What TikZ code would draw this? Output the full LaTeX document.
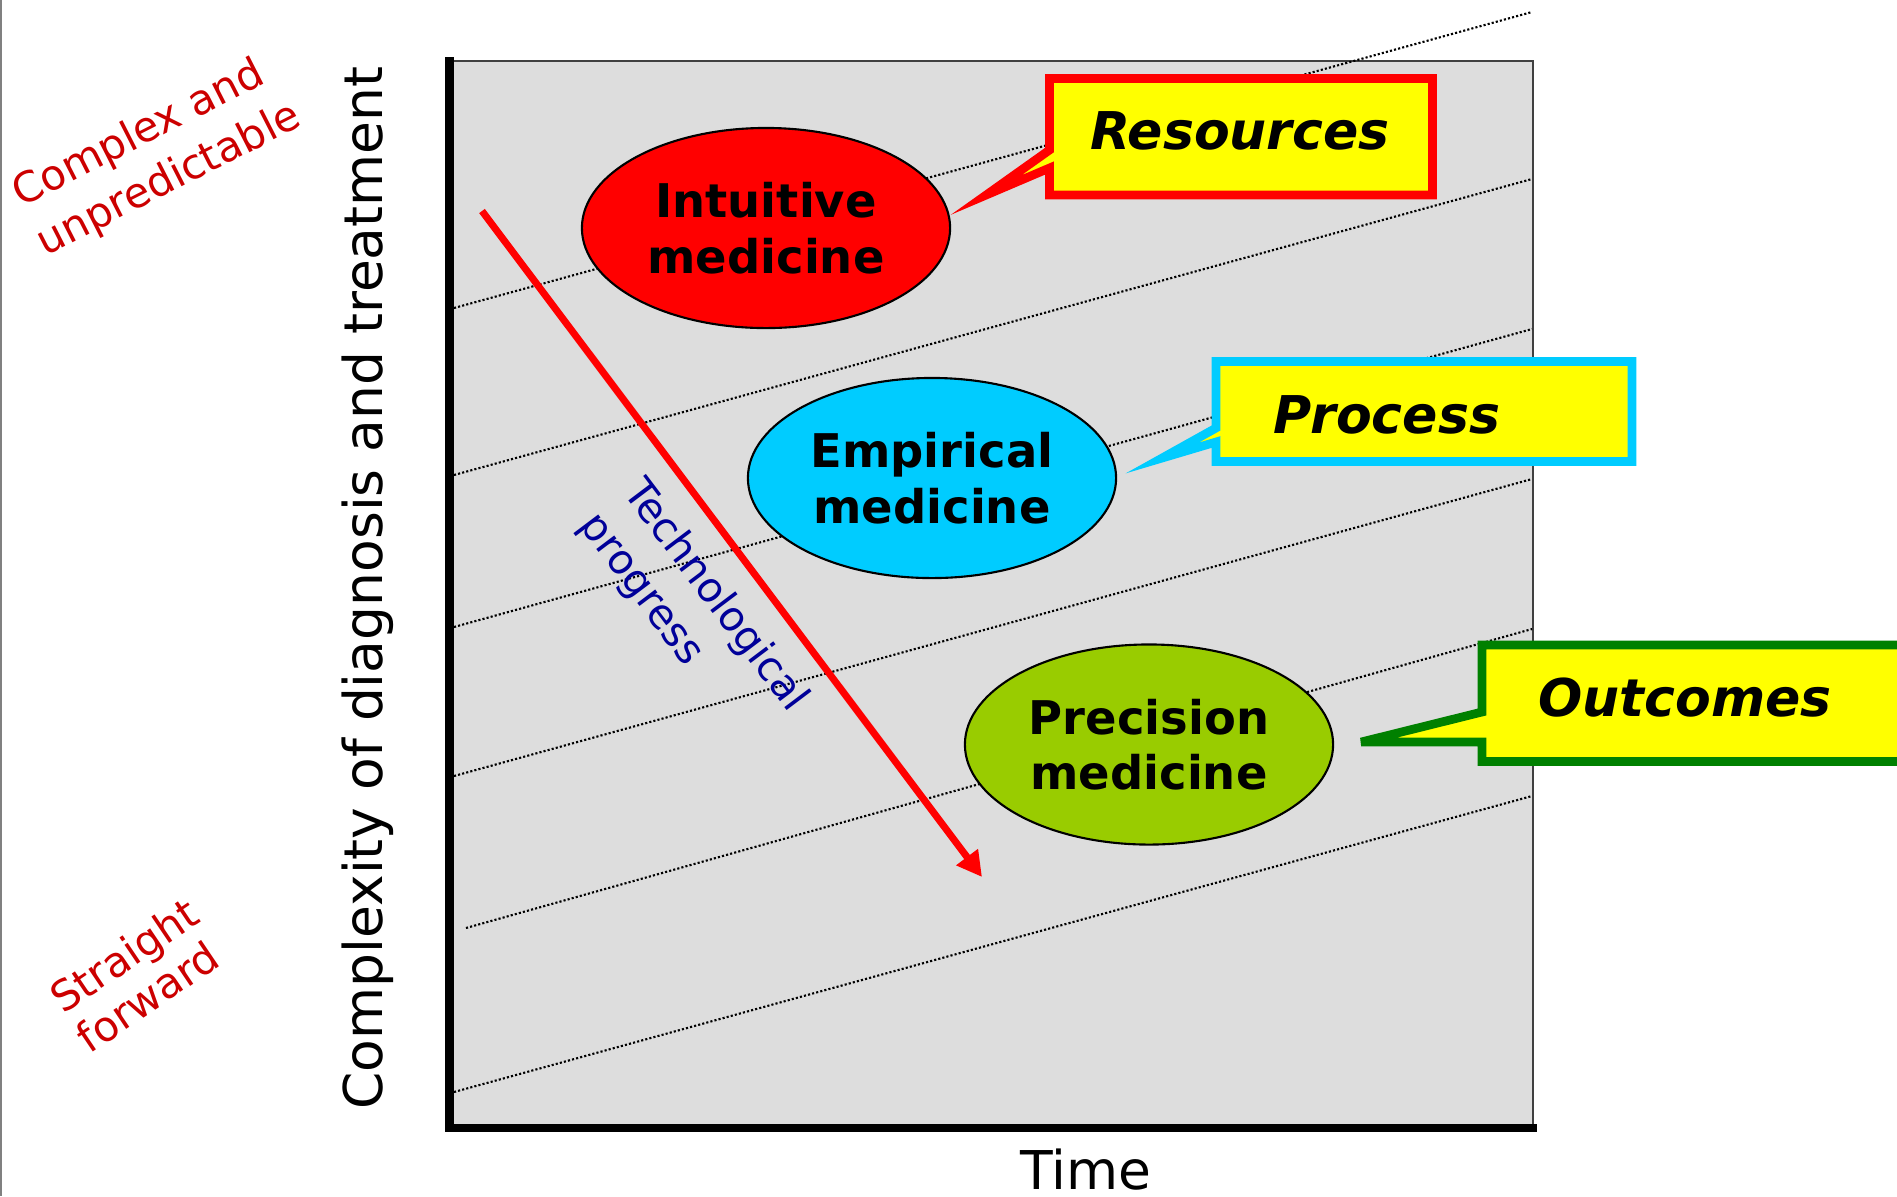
\documentclass[tikz,border=0pt]{standalone}
\usepackage{fontspec}
\setmainfont{DejaVu Sans}[ItalicFont={DejaVu Sans Oblique}, BoldFont={DejaVu Sans Bold}, BoldItalicFont={DejaVu Sans Bold Oblique}]
\usetikzlibrary{shapes.geometric, arrows.meta, calc}
\definecolor{plotgray}{HTML}{DDDDDD}
\definecolor{calloutyellow}{HTML}{FFFF00}
\definecolor{empiricalblue}{HTML}{00CCFF}
\definecolor{precisiongreen}{HTML}{99CC00}
\definecolor{outcomegreen}{HTML}{008000}
\definecolor{labelred}{HTML}{CC0000}
\definecolor{techblue}{HTML}{000099}
\begin{document}
\begin{tikzpicture}
[x=0.01cm, y=-0.01cm,
% STYLES
% The medicine style is used to draw the three ellipses
medicine/.style={ellipse, draw, line width=0.6pt, minimum width=3.68cm, minimum height=2cm, inner sep=0pt, align=center, font=\fontsize{13.2}{15.8}\selectfont\bfseries},
callout/.style={fill=calloutyellow, line width=2.47pt, miter limit=30},
calltext/.style={inner sep=0pt, font=\fontsize{14.8}{18}\selectfont\bfseries\itshape},
gridline/.style={line width=0.6pt, dash pattern=on 0.6pt off 0.6pt},
scalelabel/.style={text=labelred, align=left, font=\fontsize{11.9}{15.5}\selectfont},
axislabel/.style={inner sep=0pt, font=\fontsize{15.2}{18}\selectfont},
>={Triangle[length=7.1pt, width=7.3pt]}]

\useasboundingbox (0,0) rectangle (1897,1196);
\draw [gray, line width=0.6pt] (1,0) -- (1,1196);

% Draw plot area
\node [draw=black!75, fill=plotgray, line width=0.6pt, inner sep=0pt, outer sep=0pt, minimum width=10.825cm, minimum height=10.66cm, anchor=north west] (plot) at (449.5,61) {};
\foreach \xa/\ya/\yb in {454/308/12, 454/475/179, 454/627/329, 454/776/479, 466/928/629, 454/1092/796}
  \draw [gridline] (\xa,\ya) -- (1532,\yb);
\draw [line width=2.3pt, line cap=rect] (plot.north west) -- (plot.south west) -- (plot.south east);

% Draw technological progress
\coordinate (progstart) at (482,211);
\coordinate (progend) at (982,877);
\draw [->, red, line width=2pt] (progstart) -- (progend);
\node [rotate=-53, text=techblue, align=left, font=\fontsize{11.7}{15.5}\selectfont] (progress) at (693,613) {Technological\\progress};

% Draw medicines
\node [medicine, fill=red] (intuitive) at (766,228) {Intuitive\\medicine};
\node [medicine, fill=empiricalblue] (empirical) at (932,478) {Empirical\\medicine};
\node [medicine, fill=precisiongreen] (precision) at (1149,744.5) {Precision\\medicine};

% Draw callouts
\filldraw [callout, draw=red] (1049.5,150) -- (1049.5,78.5) -- (1432.5,78.5) -- (1432.5,195) -- (1049.5,195) -- (1049.5,168) -- ($(intuitive.east)+(35,-33)$) -- cycle;
\filldraw [callout, draw=empiricalblue] (1216,428) -- (1216,361.5) -- (1632,361.5) -- (1632,461.5) -- (1216,461.5) -- (1216,442) -- ($(empirical.east)+(45,-20)$) -- cycle;
\filldraw [callout, draw=outcomegreen, miter limit=5] (1482,712) -- (1482,645) -- (1910,645) -- (1910,761.5) -- (1482,761.5) -- (1482,742) -- ($(precision.east)+(27,-2.5)$) -- cycle;
\node [calltext] (resources) at (1240,131) {Resources};
\node [calltext] (process) at (1387,415) {Process};
\node [calltext] (outcomes) at (1685,698) {Outcomes};

% Draw axis labels
\node [axislabel, rotate=90] (complexity) at (368,588) {Complexity of diagnosis and treatment};
\node [axislabel, anchor=base] (time) at (1086,1189) {Time};
\node [scalelabel, rotate=27] (complex) at (157,156) {Complex and\\unpredictable};
\node [scalelabel, rotate=34, font=\fontsize{11.9}{13.5}\selectfont] (straight) at (137,975) {Straight\\forward};

\end{tikzpicture}
\end{document}
